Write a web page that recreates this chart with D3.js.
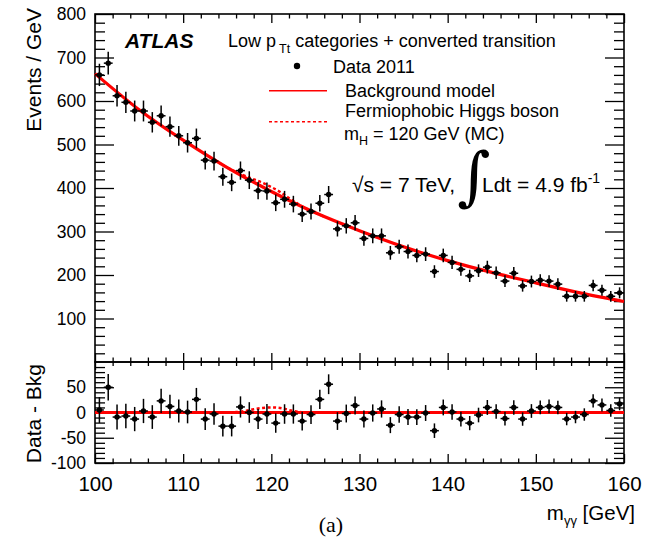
<!DOCTYPE html>
<html lang="en">
<head>
    <meta charset="UTF-8">
    <title>ATLAS diphoton mass - low pTt categories + converted transition</title>
    <script src="https://d3js.org/d3.v7.min.js"></script>
    <style>
        body { margin: 0; background: #fff; }
        svg { font-family: "Liberation Sans", Arial, Helvetica, sans-serif; }
        .tick line { stroke: #000; stroke-width: 1.3; }
    </style>
</head>
<body>
    <svg width="657" height="545"></svg>

    <script>
        // Bin centres (1 GeV bins) and event counts
        const massBins = [
            100.5, 101.5, 102.5, 103.5, 104.5, 105.5, 106.5, 107.5, 108.5, 109.5,
            110.5, 111.5, 112.5, 113.5, 114.5, 115.5, 116.5, 117.5, 118.5, 119.5,
            120.5, 121.5, 122.5, 123.5, 124.5, 125.5, 126.5, 127.5, 128.5, 129.5,
            130.5, 131.5, 132.5, 133.5, 134.5, 135.5, 136.5, 137.5, 138.5, 139.5,
            140.5, 141.5, 142.5, 143.5, 144.5, 145.5, 146.5, 147.5, 148.5, 149.5,
            150.5, 151.5, 152.5, 153.5, 154.5, 155.5, 156.5, 157.5, 158.5, 159.5
        ];
        const counts = [
            660, 687, 612, 597, 577, 577, 551, 566, 541, 520,
            504, 514, 464, 462, 426, 413, 440, 418, 394, 393,
            366, 374, 363, 340, 346, 365, 385, 306, 313, 320,
            284, 290, 290, 251, 265, 254, 245, 248, 208, 245,
            229, 213, 198, 210, 218, 205, 186, 204, 175, 185,
            188, 186, 179, 151, 151, 151, 176, 165, 151, 159
        ];
        // Data - Bkg
        const residuals = [
            5, 50, -9, -7, -13, 3, -9, 23, 12, 3,
            1, 26, -13, -3, -27, -27, 11, 0, -13, -3,
            -21, -3, -3, -17, -4, 26, 56, -17, -2, 14,
            -13, -1, 7, -25, -4, -9, -9, -1, -36, 10,
            1, -13, -21, -5, 10, 2, -12, 10, -13, 3,
            10, 12, 10, -13, -9, -4, 23, 15, 4, 17
        ];

        // Background model curve
        const bkgMass = [100, 105, 110, 115, 120, 125, 130, 135, 140, 145, 150, 155, 160];
        const bkgValues = [663, 580, 510, 447, 392, 343, 302, 265, 233, 206, 182, 159, 139];

        // Fermiophobic Higgs (mH = 120 GeV) signal: on top of bkg, and alone
        const sigMass = [114, 115, 116, 117, 118, 119, 120, 121, 122, 123, 124, 125, 126];
        const sigPlusBkg = [459, 447, 437, 428, 420, 412, 402, 391, 377, 364, 352, 343, 334];
        const sigOnly = [0, 0, 1, 3, 6.5, 9, 10, 9, 5, 1.5, 0, 0, 0];

        // Tick values
        const xMajor = [100, 110, 120, 130, 140, 150, 160];
        const xMinor = d3.range(100, 161, 2).filter(v => v % 10 !== 0);
        const yTopMajor = [100, 200, 300, 400, 500, 600, 700, 800];
        const yTopMinor = d3.range(0, 801, 20).filter(v => v % 100 !== 0);
        const yBotMajor = [-100, -50, 0, 50];
        const yBotMinor = d3.range(-100, 101, 10).filter(v => v % 50 !== 0);

        const red = "#ff0000";
        const svg = d3.select("svg");

        const left = 95, right = 624;
        const topY = 14, midY = 362, botY = 463;

        const x = d3.scaleLinear().domain([100, 160]).range([left, right]);
        const yTop = d3.scaleLinear().domain([0, 800]).range([midY, topY]);
        const yBot = d3.scaleLinear().domain([-100, 100]).range([botY, midY]);

        const noDomain = g => g.select(".domain").remove();

        // helper: major + minor ticks for one edge
        function edge(axisFn, scale, major, minor, majLen, minLen, tx, ty, labels, fontSize, pad) {
            svg.append("g").attr("transform", `translate(${tx},${ty})`)
                .call(axisFn(scale).tickValues(minor).tickSize(-minLen).tickFormat(""))
                .call(noDomain);
            const gMaj = svg.append("g").attr("transform", `translate(${tx},${ty})`)
                .call(axisFn(scale).tickValues(major).tickSize(-majLen).tickPadding(pad || 0)
                    .tickFormat(labels ? (d => String(d)) : ""))
                .call(noDomain);
            gMaj.selectAll("text").attr("font-size", fontSize).attr("fill", "#000")
                .attr("font-family", "Liberation Sans, Arial, sans-serif");
            return gMaj;
        }

        // ---- Upper panel axes ----
        edge(d3.axisLeft, yTop, yTopMajor, yTopMinor, 19, 10, left, 0, true, 17.5, 9);
        edge(d3.axisRight, yTop, yTopMajor, yTopMinor, 19, 10, right, 0, false);
        edge(d3.axisTop, x, xMajor, xMinor, 9, 4.5, 0, topY, false);
        edge(d3.axisBottom, x, xMajor, xMinor, 9, 4.5, 0, midY, false);

        // ---- Lower panel axes ----
        edge(d3.axisLeft, yBot, yBotMajor, yBotMinor, 19, 10, left, 0, true, 17.5, 9);
        edge(d3.axisRight, yBot, yBotMajor, yBotMinor, 19, 10, right, 0, false);
        edge(d3.axisTop, x, xMajor, xMinor, 8, 4, 0, midY, false);
        edge(d3.axisBottom, x, xMajor, xMinor, 9, 4.5, 0, botY, true, 20.5, 13);

        // frames
        svg.append("rect").attr("x", left).attr("y", topY)
            .attr("width", right - left).attr("height", midY - topY)
            .attr("fill", "none").attr("stroke", "#000").attr("stroke-width", 1.6);
        svg.append("rect").attr("x", left).attr("y", midY)
            .attr("width", right - left).attr("height", botY - midY)
            .attr("fill", "none").attr("stroke", "#000").attr("stroke-width", 1.6);

        // ---- Curves ----
        const bkgLine = d3.line()
            .x((d, i) => x(bkgMass[i]))
            .y(d => yTop(d))
            .curve(d3.curveNatural);
        svg.append("path").datum(bkgValues)
            .attr("fill", "none").attr("stroke", red).attr("stroke-width", 3.2)
            .attr("d", bkgLine);

        const sigTopLine = d3.line()
            .x((d, i) => x(sigMass[i]))
            .y(d => yTop(d))
            .curve(d3.curveNatural);
        svg.append("path").datum(sigPlusBkg)
            .attr("fill", "none").attr("stroke", red).attr("stroke-width", 2.4)
            .attr("stroke-dasharray", "3,2.5")
            .attr("d", sigTopLine);

        svg.append("line")
            .attr("x1", x(100)).attr("x2", x(160))
            .attr("y1", yBot(0)).attr("y2", yBot(0))
            .attr("stroke", red).attr("stroke-width", 3.2);

        const sigBotLine = d3.line()
            .x((d, i) => x(sigMass[i]))
            .y(d => yBot(d))
            .curve(d3.curveNatural);
        svg.append("path").datum(sigOnly)
            .attr("fill", "none").attr("stroke", red).attr("stroke-width", 2.4)
            .attr("stroke-dasharray", "3,2.5")
            .attr("d", sigBotLine);

        // ---- Data points with error bars ----
        function drawPoints(values, yScale) {
            const g = svg.append("g");
            const pts = g.selectAll("g").data(values).join("g");
            pts.append("line")
                .attr("x1", (d, i) => x(massBins[i])).attr("x2", (d, i) => x(massBins[i]))
                .attr("y1", (d, i) => yScale(d - Math.sqrt(counts[i])))
                .attr("y2", (d, i) => yScale(d + Math.sqrt(counts[i])))
                .attr("stroke", "#000").attr("stroke-width", 1.5);
            pts.append("line")
                .attr("x1", (d, i) => x(massBins[i] - 0.5)).attr("x2", (d, i) => x(massBins[i] + 0.5))
                .attr("y1", d => yScale(d)).attr("y2", d => yScale(d))
                .attr("stroke", "#000").attr("stroke-width", 1.5);
            pts.append("circle")
                .attr("cx", (d, i) => x(massBins[i])).attr("cy", d => yScale(d))
                .attr("r", 2.7).attr("fill", "#000");
        }
        drawPoints(counts, yTop);
        drawPoints(residuals, yBot);

        // ---- Axis titles ----
        svg.append("text")
            .attr("transform", "translate(41,8) rotate(-90)")
            .attr("text-anchor", "end").attr("font-size", 21)
            .text("Events / GeV");
        svg.append("text")
            .attr("transform", "translate(41,364) rotate(-90)")
            .attr("text-anchor", "end").attr("font-size", 21)
            .text("Data - Bkg");

        const xTitle = svg.append("text")
            .attr("x", 635).attr("y", 520).attr("text-anchor", "end").attr("font-size", 20.5);
        xTitle.append("tspan").text("m");
        xTitle.append("tspan").attr("font-size", 13).attr("dy", 5).text("γγ");
        xTitle.append("tspan").attr("dy", -5).text(" [GeV]");

        svg.append("text")
            .attr("x", 331).attr("y", 532).attr("text-anchor", "middle")
            .attr("font-family", "Liberation Serif, DejaVu Serif, serif").attr("font-size", 22)
            .text("(a)");

        // ---- Labels and legend ----
        svg.append("text")
            .attr("x", 125).attr("y", 48)
            .attr("font-size", 21).attr("font-weight", "bold").attr("font-style", "italic")
            .text("ATLAS");

        const cat = svg.append("text").attr("x", 228).attr("y", 47).attr("font-size", 18);
        cat.append("tspan").text("Low p");
        cat.append("tspan").attr("font-size", 12.5).attr("dx", 3).attr("dy", 6).text("Tt");
        cat.append("tspan").attr("dy", -6).text(" categories + converted transition");

        svg.append("circle").attr("cx", 297).attr("cy", 66).attr("r", 3.2).attr("fill", "#000");
        svg.append("text").attr("x", 333).attr("y", 73).attr("font-size", 18).text("Data 2011");

        svg.append("line").attr("x1", 269).attr("x2", 327).attr("y1", 90.7).attr("y2", 90.7)
            .attr("stroke", red).attr("stroke-width", 1.6);
        svg.append("text").attr("x", 345).attr("y", 97).attr("font-size", 18).text("Background model");

        svg.append("text").attr("x", 345).attr("y", 117).attr("font-size", 18).text("Fermiophobic Higgs boson");
        svg.append("line").attr("x1", 269).attr("x2", 327).attr("y1", 121.7).attr("y2", 121.7)
            .attr("stroke", red).attr("stroke-width", 1.6).attr("stroke-dasharray", "3,2.5");
        const mh = svg.append("text").attr("x", 344).attr("y", 139.5).attr("font-size", 18);
        mh.append("tspan").text("m");
        mh.append("tspan").attr("font-size", 12.5).attr("dy", 5).text("H");
        mh.append("tspan").attr("dy", -5).text(" = 120 GeV (MC)");

        svg.append("text").attr("x", 352).attr("y", 192).attr("font-size", 21).text("√s = 7 TeV,");
        svg.append("text").attr("x", 457).attr("y", 198)
            .attr("font-family", "DejaVu Serif, serif").attr("font-size", 64).text("∫");
        const lum = svg.append("text").attr("x", 482).attr("y", 192).attr("font-size", 21);
        lum.append("tspan").text("Ldt = 4.9 fb");
        lum.append("tspan").attr("font-size", 14).attr("dy", -9).text("-1");
    </script>
</body>
</html>
